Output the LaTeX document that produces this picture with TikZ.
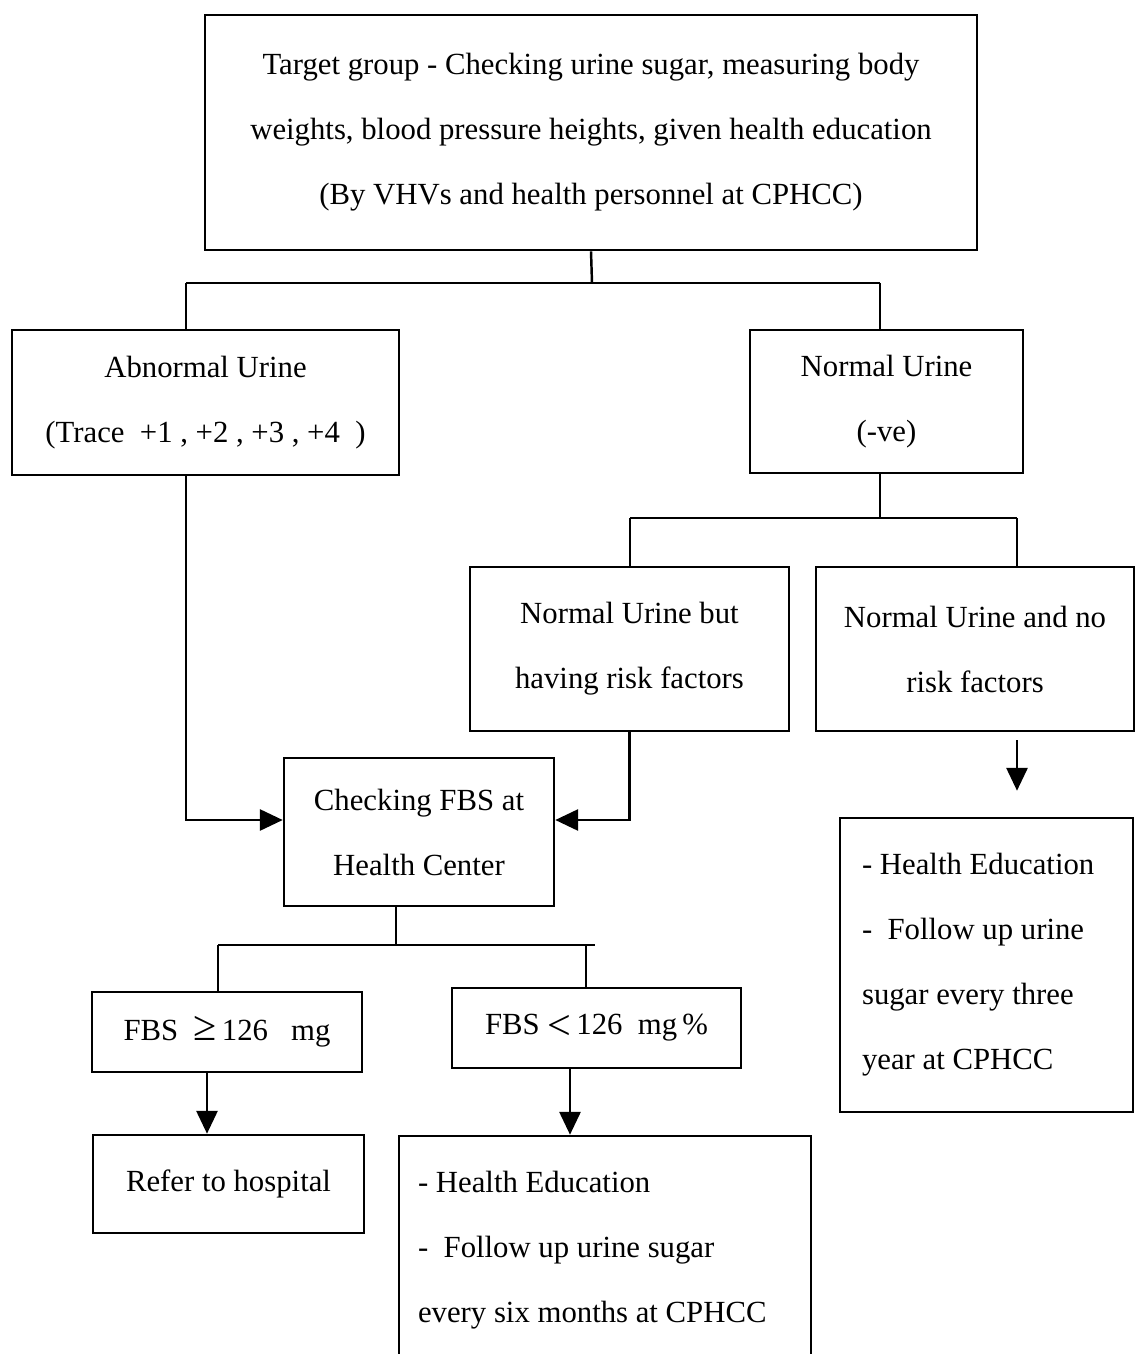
\documentclass[tikz,border=0pt]{standalone}
\usepackage{fontspec}
\setmainfont{Liberation Serif}
\usetikzlibrary{positioning}
\usetikzlibrary{calc,arrows.meta}

\newcommand{\boxfont}{\fontsize{17.5}{37}\selectfont}
\newcommand{\relsign}[1]{{\fontsize{24}{37}\selectfont #1}}

\begin{document}
\begin{tikzpicture}[
                x = 0.02cm,
                y = -0.02cm,
                box/.style = {
                    draw,
                    rectangle,
                    line width = 1.5pt,
                    align = center,
                    inner sep = 0pt,
                    font = \boxfont,
                    minimum width = #1
                },
                box/.default = 5cm,
                line/.style = {line width = 1.4pt},
                arrow/.style = {line width = 1.4pt, -{Triangle[length=13pt, width=12pt]}}
            ]
            \useasboundingbox (0,0) rectangle (1137,1354);
            \clip (0,0) rectangle (1137,1354);
            %
            \node[box=15.44cm, minimum height=4.7cm] (target) at (591,132.5)
                {Target group - Checking urine sugar, measuring body\\
                 weights, blood pressure heights, given health education\\
                 (By VHVs and health personnel at CPHCC)};
            % 
            \node[box=7.74cm, minimum height=2.9cm] (abnormal) at (205.5,402.5)
                {Abnormal Urine\\(Trace\ \ +1 , +2 , +3 , +4\ \ )};
            \node[box=5.46cm, minimum height=2.86cm] (normal) at (886.5,401.5)
                {Normal Urine\\(-ve)};
            % 
            \node[box=6.38cm, minimum height=3.28cm] (risk) at (629.5,649)
                {Normal Urine but\\having risk factors};
            \node[box=6.36cm, minimum height=3.28cm] (norisk) at (975,649)
                {Normal Urine and no\\risk factors};
            % 
            \node[box=5.4cm, minimum height=2.96cm] (fbs) at (419,832)
                {Checking FBS at\\Health Center};
            % 
            \node[box=5.4cm, minimum height=1.6cm] (high) at (227,1032)
                {FBS\ \ \relsign{≥}\,126\ \ \ mg};
            \node[box=5.78cm, minimum height=1.6cm] (low) at (596.5,1028)
                {FBS\ \raisebox{-2.5pt}{\relsign{<}}\,126\ \ mg\,\%};
            % 
            \node[box=5.42cm, minimum height=1.96cm] (refer) at (228.5,1184)
                {Refer to hospital};
            \node[box=8.24cm, minimum height=4.56cm, align=flush left, inner xsep=0.38cm,
                  text width=7.48cm] (edusix) at (605,1250)
                {- Health Education\\
                 -\ \ Follow up urine sugar\\
                 every six months at CPHCC};
            \node[box=5.86cm, minimum height=5.88cm, align=flush left, inner xsep=0.44cm,
                  text width=4.98cm] (eduthree) at (986.5,965)
                {- Health Education\\
                 -\ \ Follow up urine\\
                 sugar every three\\
                 year at CPHCC};
            % 
            \coordinate (splitA) at (592,283);
            \coordinate (splitAl) at (186,283);
            \coordinate (splitAr) at (880,283);
            \draw[line] (target.south) -- (splitA);
            \draw[line] (splitAl) -- (splitAr);
            \draw[line] (splitAl) -- (splitAl |- abnormal.north);
            \draw[line] (splitAr) -- (splitAr |- normal.north);
            % 
            \coordinate (splitB) at (880,518);
            \coordinate (splitBl) at (630,518);
            \coordinate (splitBr) at (1017,518);
            \draw[line] (splitB |- normal.south) -- (splitB);
            \draw[line] (splitBl) -- (splitBr);
            \draw[line] (splitBl) -- (splitBl |- risk.north);
            \draw[line] (splitBr) -- (splitBr |- norisk.north);
            % 
            \draw[arrow] (splitAl |- abnormal.south) |- ($(fbs.west)+(0,-12)$);
            \draw[arrow] (risk.south) |- ($(fbs.east)+(0,-12)$);
            \draw[arrow, shorten <=0.16cm, shorten >=0.52cm] (splitBr |- norisk.south) -- (splitBr |- eduthree.north);
            % 
            \coordinate (splitC) at (396,945);
            \coordinate (splitCl) at (218,945);
            \coordinate (splitCr) at (595,945);
            \coordinate (dropCr) at (586,945);
            \draw[line] (splitC |- fbs.south) -- (splitC);
            \draw[line] (splitCl) -- (splitCr);
            \draw[line] (splitCl) -- (splitCl |- high.north);
            \draw[line] (dropCr) -- (dropCr |- low.north);
            % 
            \draw[arrow] ($(high.south)+(-20,0)$) -- ($(refer.north)+(-21.5,0)$);
            \draw[arrow] ($(low.south)+(-26.5,0)$) -- ($(edusix.north)+(-35,0)$);
            % 
        \end{tikzpicture}
\end{document}
